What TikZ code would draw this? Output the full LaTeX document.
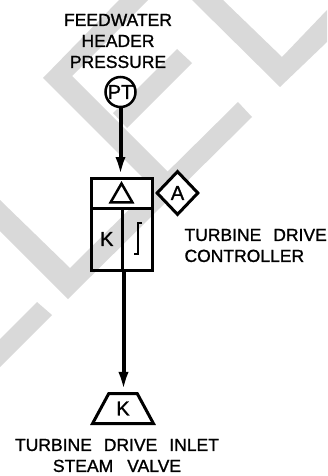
\documentclass[tikz,border=0pt]{standalone}
\usepackage{fontspec}
\setmainfont{Liberation Sans}[RawFeature={embolden=1.2}]
\usepackage{tikz}
\usetikzlibrary{positioning,arrows.meta,shapes.geometric}

\begin{document}
\begin{tikzpicture}[x=1pt, y=-1pt, >={Latex[length=20pt,width=10pt]}, every node/.style={font=\fontsize{17.5}{21}\selectfont},
    cell/.style={draw, line width=3pt, inner sep=0pt},
    tag/.style={font=\fontsize{20}{24}\selectfont},
    band/.style={fill=black!15}]
  \useasboundingbox (0,0) rectangle (327,476);
  % watermark
  \fill[band] (192,0) -- (280,87) -- (327,42) -- (327,10) -- (282,57) -- (223,0) -- cycle;
  \fill[band] (119,0) -- (43,78) -- (160,195) -- (175.5,179.5) -- (72,76) -- (148,0) -- cycle;
  \fill[band] (177,49) -- (192,63) -- (127,128) -- (113,113) -- cycle;
  \fill[band] (0,200) -- (70,268) -- (238,102) -- (252,117) -- (68,299) -- (0,231) -- cycle;
  \fill[band] (37,302) -- (52,315) -- (0,367) -- (0,339) -- cycle;
  % labels
  \node[align=center] (header) at (118,41) {FEEDWATER\\HEADER\\PRESSURE};
  \node[align=left, anchor=west] (ctrl) at (181,245.5) {TURBINE\hspace{12pt}DRIVE\\CONTROLLER};
  \node[align=center] (inlet) at (117,455.5) {TURBINE\hspace{12pt}DRIVE\hspace{12pt}INLET\\STEAM\hspace{14pt}VALVE};
  % instruments
  \node[draw, circle, tag, line width=2.5pt, fill=white, minimum size=30pt, inner sep=0pt] (pt) at (120.5,92) {PT};
  \node[cell, fill=white, minimum width=60.5pt, minimum height=29.5pt] (sum) at (121.75,193.25) {};
  \node[cell, tag, minimum width=30.5pt, minimum height=62pt] (gain) at (106.75,239) {K};
  \node[cell, minimum width=30pt, minimum height=62pt] (reset) at (137,239) {};
  \node[draw, regular polygon, regular polygon sides=3, line width=2.5pt, minimum size=25pt, inner sep=0pt] (delta) at (121.5,196) {};
  \node[draw, diamond, tag, fill=white, line width=3pt, minimum width=42pt, minimum height=44pt, inner sep=0pt] (auto) at (177.5,193) {A};
  \node[draw, trapezium, tag, trapezium left angle=61, trapezium right angle=61, trapezium stretches=true, line width=3pt,
        minimum width=61pt, minimum height=30pt, inner sep=0pt] (valve) at (123,408.5) {K};
  % integral sign
  \draw[line width=2pt] (142,223) -- (138,223) -- (138,254) -- (134,254);
  % signal lines
  \draw[->, line width=4pt] (pt.south) -- (pt.south |- sum.north);
  \draw[->, line width=4pt] (gain.south east) -- (gain.south east |- valve.north);
\end{tikzpicture}
\end{document}
